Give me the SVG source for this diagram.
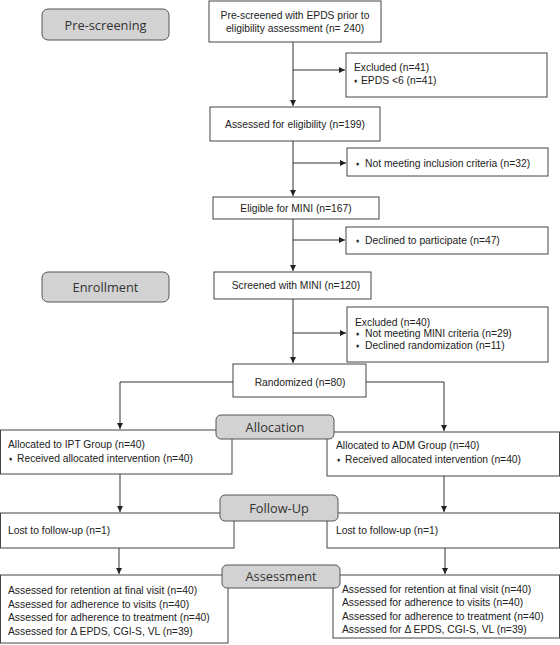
<svg xmlns="http://www.w3.org/2000/svg" width="560" height="645" viewBox="0 0 560 645">
<defs>
<marker id="ah" markerWidth="7" markerHeight="7" refX="6" refY="3.5" orient="auto" markerUnits="userSpaceOnUse">
<path d="M0,0.5 L6,3.5 L0,6.5 Z" fill="#222"/>
</marker>
<style>
.box{fill:#fff;stroke:#444;stroke-width:1}
.lab{fill:#d2d2d2;stroke:#555;stroke-width:1}
.t{font-family:"Liberation Sans",Arial,sans-serif;font-size:10.3px;fill:#222}
.c{text-anchor:middle}
.lt{font-family:"Open Sans","Noto Sans",sans-serif;font-size:12.8px;fill:#333;text-anchor:middle}
.b{font-size:6.5px}
.ln{fill:none;stroke:#333;stroke-width:1}
</style>
</defs>
<rect width="560" height="645" fill="#fff"/>
<g id="connectors">
<path class="ln" d="M293,42 V106" marker-end="url(#ah)"/>
<path class="ln" d="M293,70 H345" marker-end="url(#ah)"/>
<path class="ln" d="M293,141 V196" marker-end="url(#ah)"/>
<path class="ln" d="M293,163 H346" marker-end="url(#ah)"/>
<path class="ln" d="M293,219 V271" marker-end="url(#ah)"/>
<path class="ln" d="M293,240 H345" marker-end="url(#ah)"/>
<path class="ln" d="M293,299 V363" marker-end="url(#ah)"/>
<path class="ln" d="M293,333 H346" marker-end="url(#ah)"/>
<path class="ln" d="M233,382 H120 V429" marker-end="url(#ah)"/>
<path class="ln" d="M366,382 H444 V431" marker-end="url(#ah)"/>
<path class="ln" d="M120,474 V512" marker-end="url(#ah)"/>
<path class="ln" d="M444,476 V512" marker-end="url(#ah)"/>
<path class="ln" d="M119,548 V574" marker-end="url(#ah)"/>
<path class="ln" d="M445,548 V574" marker-end="url(#ah)"/>
</g>
<g id="n-prescreen-label"><rect class="lab" x="42" y="9" width="127" height="31" rx="6"/><text class="lt" x="105.5" y="29.5">Pre-screening</text></g>
<g id="n-prescreened"><rect class="box" x="209" y="1" width="172" height="41"/>
<text class="t c" x="295" y="19">Pre-screened with EPDS prior to</text>
<text class="t c" x="295" y="31.5">eligibility assessment (n= 240)</text></g>
<g id="n-excl41"><rect class="box" x="346" y="53" width="201" height="44"/>
<text class="t" x="354" y="71">Excluded (n=41)</text>
<text class="t" x="354" y="83.5"><tspan class="b" dy="-1">♦</tspan><tspan x="361" dy="1">EPDS &lt;6 (n=41)</tspan></text></g>
<g id="n-assessed"><rect class="box" x="210" y="107" width="170" height="34"/>
<text class="t c" x="295" y="128">Assessed for eligibility (n=199)</text></g>
<g id="n-notmeet"><rect class="box" x="347" y="148" width="201" height="28"/>
<text class="t" x="356" y="166.5"><tspan class="b" dy="-1">♦</tspan><tspan x="365" dy="1">Not meeting inclusion criteria (n=32)</tspan></text></g>
<g id="n-eligible"><rect class="box" x="213" y="197" width="166" height="22"/>
<text class="t c" x="296" y="211.5">Eligible for MINI (n=167)</text></g>
<g id="n-declined"><rect class="box" x="346" y="227" width="202" height="27"/>
<text class="t" x="356" y="244"><tspan class="b" dy="-1">♦</tspan><tspan x="365" dy="1">Declined to participate (n=47)</tspan></text></g>
<g id="n-enroll-label"><rect class="lab" x="42" y="272" width="127" height="30" rx="6"/><text class="lt" x="105.5" y="291.5">Enrollment</text></g>
<g id="n-screened"><rect class="box" x="214" y="272" width="157" height="27"/>
<text class="t c" x="296" y="289">Screened with MINI (n=120)</text></g>
<g id="n-excl40"><rect class="box" x="347" y="307" width="201" height="55"/>
<text class="t" x="355" y="325.5">Excluded (n=40)</text>
<text class="t" x="356" y="337"><tspan class="b" dy="-1">♦</tspan><tspan x="365" dy="1">Not meeting MINI criteria (n=29)</tspan></text>
<text class="t" x="356" y="348.5"><tspan class="b" dy="-1">♦</tspan><tspan x="365" dy="1">Declined randomization (n=11)</tspan></text></g>
<g id="n-randomized"><rect class="box" x="233" y="364" width="133" height="33"/>
<text class="t c" x="300" y="386">Randomized (n=80)</text></g>
<g id="n-ipt"><rect class="box" x="0.5" y="430" width="231.5" height="44"/>
<text class="t" x="8" y="448">Allocated to IPT Group (n=40)</text>
<text class="t" x="9" y="461.5"><tspan class="b" dy="-1">♦</tspan><tspan x="17" dy="1">Received allocated intervention (n=40)</tspan></text></g>
<g id="n-adm"><rect class="box" x="327" y="432" width="232.5" height="44"/>
<text class="t" x="336" y="449">Allocated to ADM Group (n=40)</text>
<text class="t" x="337" y="462.5"><tspan class="b" dy="-1">♦</tspan><tspan x="345" dy="1">Received allocated intervention (n=40)</tspan></text></g>
<g id="n-alloc-label"><rect class="lab" x="216" y="415" width="118" height="24" rx="5"/><text class="lt" x="275" y="431.5">Allocation</text></g>
<g id="n-lost-l"><rect class="box" x="0.5" y="513" width="233.5" height="35"/>
<text class="t" x="8" y="534">Lost to follow-up (n=1)</text></g>
<g id="n-lost-r"><rect class="box" x="327" y="513" width="232.5" height="35"/>
<text class="t" x="336" y="534">Lost to follow-up (n=1)</text></g>
<g id="n-followup-label"><rect class="lab" x="220" y="495" width="118" height="26" rx="5"/><text class="lt" x="279" y="512.5">Follow-Up</text></g>
<g id="n-assess-l"><rect class="box" x="0.5" y="575" width="227.5" height="68"/>
<text class="t" x="8" y="594">Assessed for retention at final visit (n=40)</text>
<text class="t" x="8" y="607.5">Assessed for adherence to visits (n=40)</text>
<text class="t" x="8" y="621">Assessed for adherence to treatment (n=40)</text>
<text class="t" x="8" y="634.5">Assessed for Δ EPDS, CGI-S, VL (n=39)</text></g>
<g id="n-assess-r"><rect class="box" x="333" y="575" width="226.5" height="63"/>
<text class="t" x="342" y="592.5">Assessed for retention at final visit (n=40)</text>
<text class="t" x="342" y="606">Assessed for adherence to visits (n=40)</text>
<text class="t" x="342" y="619.5">Assessed for adherence to treatment (n=40)</text>
<text class="t" x="342" y="633">Assessed for Δ EPDS, CGI-S, VL (n=39)</text></g>
<g id="n-assessment-label"><rect class="lab" x="222" y="565" width="118" height="23" rx="5"/><text class="lt" x="281" y="581">Assessment</text></g>
</svg>
